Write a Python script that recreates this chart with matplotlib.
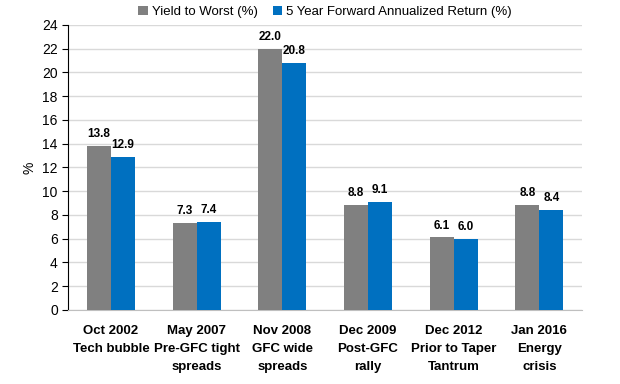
import matplotlib.pyplot as plt
import numpy as np

plt.rcParams['font.family'] = ['Liberation Sans', 'DejaVu Sans']

# Data
categories = ["Oct 2002\nTech bubble", "May 2007\nPre-GFC tight\nspreads", "Nov 2008\nGFC wide\nspreads",
              "Dec 2009\nPost-GFC\nrally", "Dec 2012\nPrior to Taper\nTantrum", "Jan 2016\nEnergy\ncrisis"]
yield_to_worst = [13.8, 7.3, 22.0, 8.8, 6.1, 8.8]
fwd_return = [12.9, 7.4, 20.8, 9.1, 6.0, 8.4]
series_names = ["Yield to Worst (%)", "5 Year Forward Annualized Return (%)"]

fig = plt.figure(figsize=(6.2, 3.84), dpi=100)
ax = fig.add_axes([0.11, 0.193, 0.829, 0.742])

x = np.arange(len(categories))
w = 0.28
b1 = ax.bar(x - w / 2, yield_to_worst, w, color="#808080", label=series_names[0], zorder=3)
b2 = ax.bar(x + w / 2, fwd_return, w, color="#0070C0", label=series_names[1], zorder=3)

# Value labels
for bars, vals in ((b1, yield_to_worst), (b2, fwd_return)):
    for r, v in zip(bars, vals):
        ax.text(r.get_x() + r.get_width() / 2, v + 0.5, f"{v:.1f}", ha="center", va="bottom",
                fontsize=8.5, fontweight="bold")

ax.set_xlim(-0.5, len(categories) - 0.5)
ax.set_ylim(0, 24)
ax.set_yticks(range(0, 25, 2))
ax.set_xticks(x)
ax.set_xticklabels(categories, fontsize=9.5, fontweight="bold", linespacing=1.65)
ax.tick_params(axis="x", length=0, pad=11)
ax.tick_params(axis="y", labelsize=10, length=4, direction="out")
ax.set_ylabel("%", fontsize=10)

ax.grid(axis="y", color="#D9D9D9", linewidth=1, zorder=0)
for s in ("top", "right"):
    ax.spines[s].set_visible(False)
ax.spines["bottom"].set_color("#BFBFBF")
ax.spines["left"].set_color("black")

ax.legend(loc="lower center", bbox_to_anchor=(0.5, 1.005), ncol=2, frameon=False, fontsize=9.5,
          handlelength=0.7, handleheight=0.7, handletextpad=0.3, columnspacing=1.2, borderaxespad=0)

fig.savefig("out.png", dpi=100)
